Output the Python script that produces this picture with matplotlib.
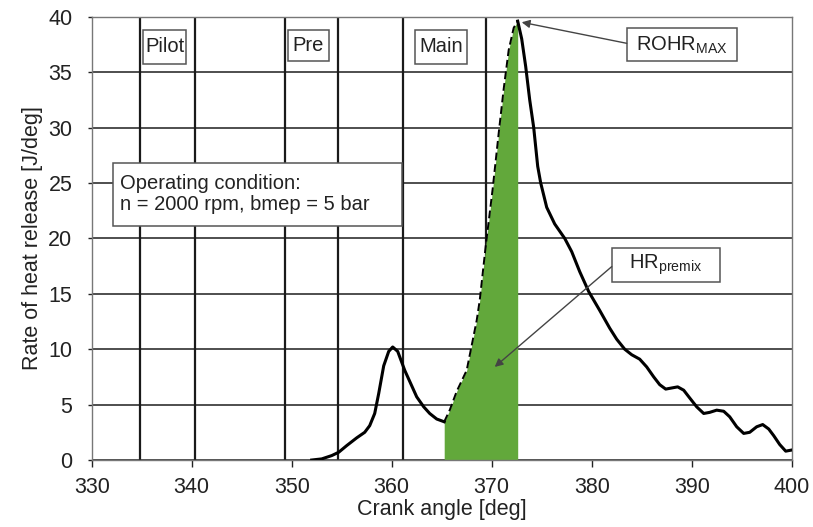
import matplotlib
matplotlib.use('Agg')
import matplotlib.pyplot as plt
from matplotlib.patches import Rectangle
import numpy as np

plt.rcParams['font.family'] = ['Liberation Sans', 'DejaVu Sans']
plt.rcParams['mathtext.fontset'] = 'custom'
plt.rcParams['mathtext.rm'] = 'Liberation Sans'
plt.rcParams['mathtext.it'] = 'Liberation Sans:italic'

# ---- data ----
crank_angle = [352.0, 353.0, 354.0, 354.7, 355.5, 356.5, 357.3, 357.8, 358.3, 358.7,
               359.2, 359.7, 360.1, 360.6, 361.3, 362.0, 362.5, 363.2, 363.8, 364.5,
               365.25, 365.8, 366.5, 367.5, 368.5, 368.8, 369.4, 370.1, 370.7, 371.2,
               371.7, 372.2, 372.6, 373.0, 373.4, 373.8, 374.2, 374.6, 374.9, 375.5,
               376.3, 377.3, 378.0, 378.8, 379.7, 380.8, 381.8, 382.5, 383.3, 384.0,
               384.8, 385.5, 386.2, 386.8, 387.4, 388.0, 388.6, 389.2, 389.8, 390.5,
               391.2, 391.8, 392.5, 393.2, 393.8, 394.5, 395.2, 395.8, 396.5, 397.1,
               397.7, 398.2, 398.8, 399.4, 400.0]
rohr = [0.0, 0.1, 0.4, 0.7, 1.3, 2.0, 2.5, 3.1, 4.2, 6.0,
        8.5, 9.8, 10.2, 9.8, 8.1, 6.7, 5.7, 4.8, 4.2, 3.7,
        3.45, 4.5, 6.2, 8.1, 12.6, 14.4, 19.3, 24.5, 29.5, 33.5,
        37.0, 39.0, 39.6, 38.0, 35.5, 32.5, 30.0, 26.5, 25.0, 22.8,
        21.3, 20.0, 18.8, 17.0, 15.2, 13.5, 11.9, 10.9, 10.0, 9.5,
        9.1, 8.4, 7.5, 6.8, 6.4, 6.5, 6.6, 6.3, 5.6, 4.8,
        4.2, 4.3, 4.5, 4.4, 3.9, 3.0, 2.4, 2.5, 3.0, 3.2,
        2.8, 2.2, 1.4, 0.8, 0.9]

premix_start = 365.25
premix_end = 372.6

injection_lines = [334.8, 340.3, 349.3, 354.6, 361.1, 369.4]
phase_labels = ['Pilot', 'Pre', 'Main']

x_ticks = [330, 340, 350, 360, 370, 380, 390, 400]
y_ticks = [0, 5, 10, 15, 20, 25, 30, 35, 40]

# ---- plot ----
fig = plt.figure(figsize=(8.13, 5.27), dpi=100)
ax = fig.add_axes([0.1128, 0.1271, 0.861, 0.8412])

ax.set_xlim(330, 400)
ax.set_ylim(0, 40)
ax.set_xticks(x_ticks)
ax.set_yticks(y_ticks)
ax.yaxis.grid(True, color='#404040', lw=1.3)
ax.set_axisbelow(True)

for v in injection_lines:
    ax.axvline(v, color='#1a1a1a', lw=1.6, zorder=1.5)

x = np.array(crank_angle)
y = np.array(rohr)
mask_pre = x <= premix_start
mask_mix = (x >= premix_start) & (x <= premix_end)
mask_post = x >= premix_end

ax.fill_between(x[mask_mix], y[mask_mix], 0, color='#62a83b', lw=0, zorder=2)
ax.plot(x[mask_pre], y[mask_pre], color='black', lw=2.2, zorder=3)
ax.plot(x[mask_mix], y[mask_mix], color='black', lw=1.4, ls=(0, (4, 2)), zorder=3)
ax.plot(x[mask_post], y[mask_post], color='black', lw=2.2, zorder=3)


def box(x0, x1, y0, y1):
    ax.add_patch(Rectangle((x0, y0), x1 - x0, y1 - y0, fc='white', ec='#555555',
                           lw=1.1, zorder=5))


# phase label boxes (x0, x1, y0, y1)
phase_boxes = [(335.15, 339.45, 35.75, 38.8),
               (349.65, 353.7, 36.0, 38.8),
               (362.3, 367.5, 35.75, 38.8)]
for lab, (x0, x1, y0, y1) in zip(phase_labels, phase_boxes):
    box(x0, x1, y0, y1)
    ax.text((x0 + x1) / 2, (y0 + y1) / 2, lab, ha='center', va='center',
            fontsize=14.5, color='#222222', zorder=6)

# operating condition
box(332.1, 361.0, 21.1, 26.8)
ax.text(332.8, 24.0, 'Operating condition:\nn = 2000 rpm, bmep = 5 bar',
        ha='left', va='center', fontsize=14.5, color='#222222', linespacing=1.1,
        zorder=6)

# ROHR max
box(383.5, 394.5, 36.0, 38.95)
ax.text(389.0, 37.45, r'ROHR$_{\mathrm{MAX}}$', ha='center', va='center',
        fontsize=14.5, color='#222222', zorder=6)
ax.annotate('', xy=(373.0, 39.5), xytext=(383.5, 37.6),
            arrowprops=dict(arrowstyle='-|>', color='#444444', lw=1, mutation_scale=12,
                            shrinkA=0, shrinkB=0), zorder=6)

# HR premix
box(382.0, 392.8, 16.1, 19.1)
ax.text(387.4, 17.6, r'HR$_{\mathrm{premix}}$', ha='center', va='center',
        fontsize=14.5, color='#222222', zorder=6)
ax.annotate('', xy=(370.3, 8.4), xytext=(382.0, 17.45),
            arrowprops=dict(arrowstyle='-|>', color='#444444', lw=1, mutation_scale=12,
                            shrinkA=0, shrinkB=0), zorder=6)

for s in ax.spines.values():
    s.set_color('#777777')
    s.set_linewidth(1)

ax.tick_params(axis='both', labelsize=15.5, colors='#222222', width=1, direction='out')
ax.tick_params(axis='x', length=5, pad=7)
ax.tick_params(axis='y', length=3, pad=11)
ax.set_xlabel('Crank angle [deg]', fontsize=15.5, color='#222222', labelpad=1)
ax.set_ylabel('Rate of heat release [J/deg]', fontsize=15.5, color='#222222', labelpad=4)

fig.savefig('out.png', dpi=100)
